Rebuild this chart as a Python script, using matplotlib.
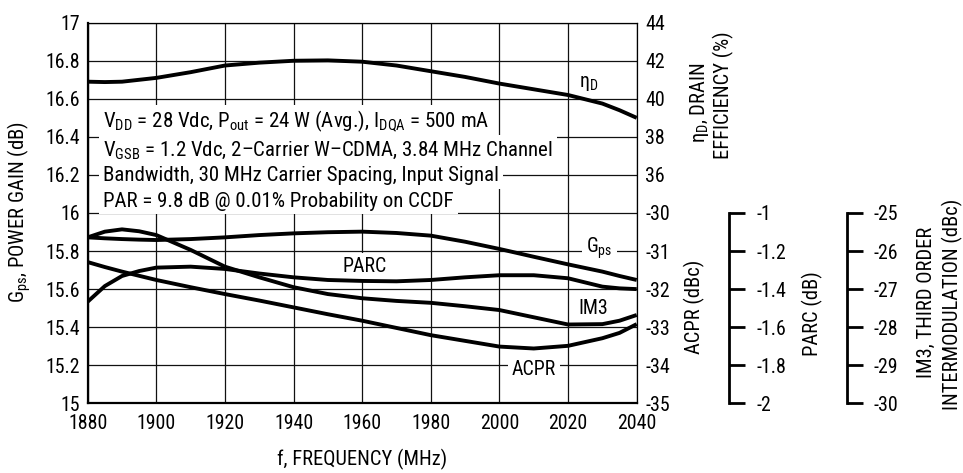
import matplotlib
matplotlib.use("Agg")
import matplotlib.pyplot as plt
from matplotlib.ticker import FixedLocator, FuncFormatter

FONT = 'Roboto Condensed'
plt.rcParams['font.family'] = [FONT, 'DejaVu Sans']
plt.rcParams['mathtext.fontset'] = 'custom'
plt.rcParams['mathtext.rm'] = FONT
plt.rcParams['mathtext.it'] = FONT + ':italic'
plt.rcParams['mathtext.bf'] = FONT + ':bold'
plt.rcParams['axes.unicode_minus'] = False

# ---- measured data (frequency in MHz) ----
freq = [1880, 1885, 1890, 1895, 1900, 1910, 1920, 1930, 1940, 1950,
        1960, 1970, 1980, 1990, 2000, 2010, 2020, 2030, 2035, 2040]
gps = [15.872, 15.867, 15.863, 15.860, 15.858, 15.863, 15.872, 15.884, 15.893, 15.899,
       15.902, 15.895, 15.881, 15.849, 15.811, 15.770, 15.730, 15.692, 15.669, 15.648]
eta_d = [40.9, 40.88, 40.9, 41.0, 41.1, 41.4, 41.75, 41.9, 42.0, 42.02,
         41.95, 41.75, 41.45, 41.15, 40.8, 40.5, 40.2, 39.75, 39.4, 39.0]
parc = [-1.466, -1.384, -1.331, -1.305, -1.287, -1.282, -1.294, -1.318, -1.338, -1.352,
        -1.357, -1.359, -1.352, -1.338, -1.327, -1.327, -1.343, -1.387, -1.396, -1.400]
im3 = [-25.64, -25.49, -25.43, -25.48, -25.58, -25.97, -26.41, -26.69, -26.95, -27.13,
       -27.24, -27.31, -27.36, -27.45, -27.55, -27.74, -27.93, -27.92, -27.83, -27.68]
acpr = [-31.29, -31.42, -31.54, -31.65, -31.76, -31.95, -32.13, -32.30, -32.48, -32.66,
        -32.83, -33.02, -33.21, -33.36, -33.51, -33.56, -33.49, -33.29, -33.15, -32.92]

freq_ticks = [1880, 1900, 1920, 1940, 1960, 1980, 2000, 2020, 2040]
gain_ticks = [15, 15.2, 15.4, 15.6, 15.8, 16, 16.2, 16.4, 16.6, 16.8, 17]
eta_ticks = [36, 38, 40, 42, 44]
acpr_ticks = [-35, -34, -33, -32, -31, -30]
parc_ticks = [-2, -1.8, -1.6, -1.4, -1.2, -1]
im3_ticks = [-30, -29, -28, -27, -26, -25]

conditions = [
    r"V$_{\mathregular{DD}}$ = 28 Vdc, P$_{\mathregular{out}}$ = 24 W (Avg.), I$_{\mathregular{DQA}}$ = 500 mA",
    r"V$_{\mathregular{GSB}}$ = 1.2 Vdc, 2–Carrier W–CDMA, 3.84 MHz Channel",
    "Bandwidth, 30 MHz Carrier Spacing, Input Signal",
    "PAR = 9.8 dB @ 0.01% Probability on CCDF",
]

TICK_FS = 14.3
LABEL_FS = 14.8
TEXT_FS = 15
LW = 2.8
fmt = FuncFormatter(lambda v, p: f"{v:g}")

fig = plt.figure(figsize=(9.63, 4.73), dpi=100)
ax = fig.add_axes([0.09107, 0.14736, 0.57009, 0.80465])

ax.set_xlim(1880, 2040)
ax.set_ylim(15, 17)
ax.xaxis.set_major_locator(FixedLocator(freq_ticks))
ax.yaxis.set_major_locator(FixedLocator(gain_ticks))
ax.yaxis.set_major_formatter(fmt)
ax.tick_params(axis='both', length=0, labelsize=TICK_FS)
ax.tick_params(axis='y', pad=5.5)
ax.tick_params(axis='x', pad=8)
ax.grid(True, color='#111111', linewidth=0.9)
ax.set_axisbelow(True)
for side in ('left', 'bottom'):
    ax.spines[side].set_linewidth(1.6)
for side in ('top', 'right'):
    ax.spines[side].set_linewidth(0.9)

ax.plot(freq, gps, color='black', linewidth=LW, solid_capstyle='butt', zorder=5)

# efficiency and ACPR share the right-hand frame edge
ax_eta = ax.twinx()
ax_eta.set_ylim(24, 44)
ax_eta.yaxis.set_major_locator(FixedLocator(eta_ticks))
ax_eta.yaxis.set_major_formatter(fmt)
ax_eta.plot(freq, eta_d, color='black', linewidth=LW, solid_capstyle='butt')

ax_acpr = ax.twinx()
ax_acpr.set_ylim(-35, -25)
ax_acpr.yaxis.set_major_locator(FixedLocator(acpr_ticks))
ax_acpr.yaxis.set_major_formatter(fmt)
ax_acpr.plot(freq, acpr, color='black', linewidth=LW, solid_capstyle='butt')

for a in (ax_eta, ax_acpr):
    for s in a.spines.values():
        s.set_visible(False)
    a.tick_params(axis='y', length=0, pad=6, labelsize=TICK_FS)

# separate offset scales for PARC and IM3
ax_parc = ax.twinx()
ax_parc.set_ylim(-2, 0)
ax_parc.plot(freq, parc, color='black', linewidth=LW, solid_capstyle='butt')

ax_im3 = ax.twinx()
ax_im3.set_ylim(-30, -20)
ax_im3.plot(freq, im3, color='black', linewidth=LW, solid_capstyle='butt')

for a, pos, ticks, lo, hi in ((ax_parc, 1.1687, parc_ticks, -2, -1),
                              (ax_im3, 1.3825, im3_ticks, -30, -25)):
    for name, s in a.spines.items():
        s.set_visible(name == 'right')
    a.spines['right'].set_position(('axes', pos))
    a.spines['right'].set_bounds(lo, hi)
    a.spines['right'].set_linewidth(2.0)
    a.yaxis.set_major_locator(FixedLocator(ticks))
    a.yaxis.set_major_formatter(fmt)
    a.tick_params(axis='y', direction='out', length=11.5, width=2.0, pad=8,
                  labelsize=TICK_FS)

# operating conditions block
box = dict(boxstyle='square,pad=0.18', facecolor='white', edgecolor='none')
for text, g in zip(conditions, [16.449, 16.302, 16.166, 16.034]):
    ax.text(1884.5, g, text, fontsize=TEXT_FS, ha='left', va='baseline',
            bbox=box, zorder=3)

# curve labels
lbox = dict(boxstyle='square,pad=0.2', facecolor='white', edgecolor='none')
ax.text(2026.1, 16.683, r"η$_{\mathregular{D}}$", fontsize=TICK_FS, ha='center', va='center',
        bbox=lbox, zorder=3)
ax.text(2029.2, 15.816, r"G$_{\mathregular{ps}}$", fontsize=TICK_FS, ha='center', va='center',
        bbox=lbox, zorder=3)
ax.text(1960.8, 15.718, "PARC", fontsize=TICK_FS, ha='center', va='center',
        bbox=lbox, zorder=3)
ax.text(2027.2, 15.499, "IM3", fontsize=TICK_FS, ha='center', va='center',
        bbox=lbox, zorder=3)
ax.text(2010.1, 15.175, "ACPR", fontsize=TICK_FS, ha='center', va='center',
        bbox=lbox, zorder=3)

# axis titles, anchored on their baselines (pixel positions)
W, H = 963.0, 473.0
def ftext(x, y, s, rot=90):
    fig.text(x / W, 1 - y / H, s, fontsize=LABEL_FS, ha='center', va='baseline',
             rotation=rot, rotation_mode='anchor')

ftext(362, 465, "f, FREQUENCY (MHz)", rot=0)
ftext(25, 212, r"G$_{\mathregular{ps}}$, POWER GAIN (dB)")
ftext(705, 103, r"η$_{\mathregular{D}}$, DRAIN")
ftext(729, 95, "EFFICIENCY (%)")
ftext(700, 307, "ACPR (dBc)")
ftext(818, 314, "PARC (dB)")
ftext(932, 302, "IM3, THIRD ORDER")
ftext(958, 304, "INTERMODULATION (dBc)")

fig.savefig("out.png", dpi=100)
